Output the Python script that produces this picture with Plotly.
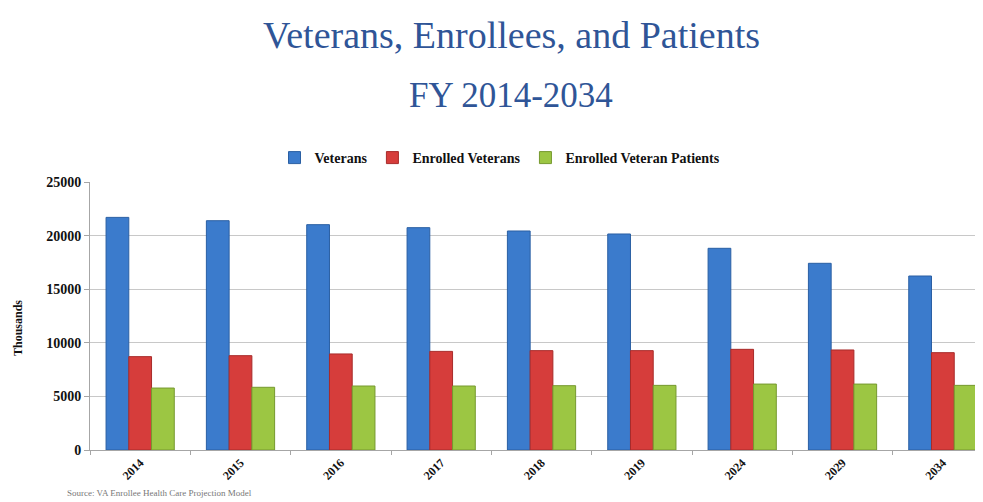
import plotly.graph_objects as go

years = ["2014", "2015", "2016", "2017", "2018", "2019", "2024", "2029", "2034"]
veterans = [21700, 21390, 21020, 20740, 20430, 20150, 18815, 17415, 16230]
enrolled = [8710, 8800, 8960, 9200, 9270, 9270, 9390, 9330, 9080]
patients = [5780, 5850, 5970, 5970, 6000, 6030, 6150, 6150, 6030]

serif = "Liberation Serif, Times New Roman, serif"

fig = go.Figure()
fig.add_trace(go.Bar(name="Veterans", x=years, y=veterans,
                     marker=dict(color="#3b7bcc", line=dict(color="#2a5fa3", width=1))))
fig.add_trace(go.Bar(name="Enrolled Veterans", x=years, y=enrolled,
                     marker=dict(color="#d63d3b", line=dict(color="#a82b2a", width=1))))
fig.add_trace(go.Bar(name="Enrolled Veteran Patients", x=years, y=patients,
                     marker=dict(color="#9cc643", line=dict(color="#76992f", width=1))))

# plot-area geometry on screen (page has an 8px body margin)
px0, pw, py0, ph = 90, 893, 450, 268

fig.update_layout(
    width=983, height=502,
    margin=dict(l=82, r=8, t=174, b=60),
    paper_bgcolor="white", plot_bgcolor="white",
    barmode="group", bargap=0.32, bargroupgap=0,
    font=dict(family=serif, color="#222222"),
    showlegend=True,
    legend=dict(orientation="h", x=(500 - px0) / pw, xanchor="center",
                y=(py0 - 158) / ph, yanchor="middle",
                font=dict(family=serif, size=14, color="#111111", weight="bold"),
                itemwidth=30, tracegroupgap=0),
    xaxis=dict(type="category", range=[-0.5, 8.4], showgrid=False,
               showline=True, linecolor="#a6a6a6", linewidth=1,
               ticks="outside", tickson="boundaries", ticklen=4, tickcolor="#a6a6a6",
               tickangle=-45,
               tickfont=dict(family=serif, size=12, color="#111111", weight="bold")),
    yaxis=dict(range=[0, 25000], dtick=5000, tickformat="d",
               showgrid=True, gridcolor="#c8c8c8", gridwidth=1,
               showline=True, linecolor="#a6a6a6", linewidth=1,
               ticks="outside", ticklen=5, tickcolor="#a6a6a6", zeroline=False,
               tickfont=dict(family=serif, size=14, color="#111111", weight="bold")),
    annotations=[
        dict(text="Veterans, Enrollees, and Patients", xref="paper", yref="paper",
             x=(511 - px0) / pw, y=(py0 - 35) / ph, xanchor="center", yanchor="middle",
             showarrow=False, font=dict(family=serif, size=38, color="#2f5597")),
        dict(text="FY 2014-2034", xref="paper", yref="paper",
             x=(511 - px0) / pw, y=(py0 - 95) / ph, xanchor="center", yanchor="middle",
             showarrow=False, font=dict(family=serif, size=35, color="#2f5597")),
        dict(text="Thousands", xref="paper", yref="paper", textangle=-90,
             x=(18 - px0) / pw, y=(py0 - 328) / ph, xanchor="center", yanchor="middle",
             showarrow=False, font=dict(family=serif, size=12, color="#111111", weight="bold")),
        dict(text="Source: VA Enrollee Health Care Projection Model", xref="paper", yref="paper",
             x=(65 - px0) / pw, y=(py0 - 493) / ph, xanchor="left", yanchor="middle",
             showarrow=False, font=dict(family=serif, size=9, color="#777777")),
    ],
)

fig.write_html("out.html")
